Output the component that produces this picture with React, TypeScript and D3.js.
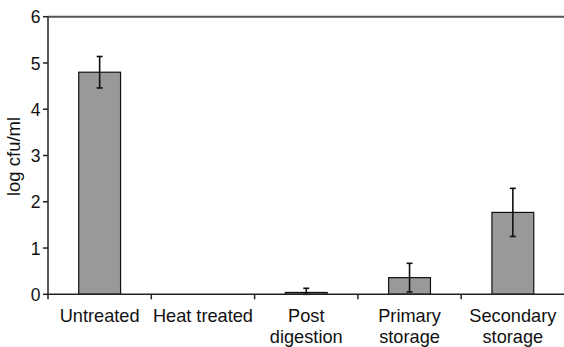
import React from "react";
import * as d3 from "d3";

const categories = [["Untreated"], ["Heat treated"], ["Post", "digestion"], ["Primary", "storage"], ["Secondary", "storage"]];
const values = [4.8, 0, 0.04, 0.36, 1.77];
const errors = [0.34, 0, 0.09, 0.31, 0.52];
const yTicks = [0, 1, 2, 3, 4, 5, 6];

export default function App() {
  const W = 564, H = 347;
  const left = 48, right = 564.5, top = 16.7, bottom = 294.3;
  const x = d3.scaleBand<number>().domain(d3.range(categories.length)).range([left, right]).paddingInner(0).paddingOuter(0);
  const y = d3.scaleLinear().domain([0, 6]).range([bottom, top]);
  const bw = x.bandwidth() * 0.405;
  const font = "Liberation Sans, Arial, sans-serif";
  return (
    <svg width={W} height={H} style={{ position: "absolute", left: 0, top: 0 }}>
      <rect width={W} height={H} fill="#fff" />
      {values.map((v, i) => {
        const cx = x(i)! + x.bandwidth() / 2;
        if (v <= 0) return null;
        return (
          <g key={i}>
            <rect x={cx - bw / 2} y={y(v)} width={bw} height={y(0) - y(v)} fill="#999" stroke="#111" strokeWidth={1.2} />
            {errors[i] > 0 && (
              <g stroke="#111" strokeWidth={1.6}>
                <line x1={cx} x2={cx} y1={y(v + errors[i])} y2={y(Math.max(0, v - errors[i]))} />
                <line x1={cx - 3} x2={cx + 3} y1={y(v + errors[i])} y2={y(v + errors[i])} />
                <line x1={cx - 3} x2={cx + 3} y1={y(Math.max(0, v - errors[i]))} y2={y(Math.max(0, v - errors[i]))} />
              </g>
            )}
          </g>
        );
      })}
      <line x1={left} x2={W} y1={y(6)} y2={y(6)} stroke="#555" strokeWidth={2} />
      <line x1={left} x2={left} y1={y(6)} y2={y(0)} stroke="#222" strokeWidth={1.5} />
      {yTicks.map((t) => (
        <g key={t}>
          <line x1={left - 5} x2={left} y1={y(t)} y2={y(t)} stroke="#222" strokeWidth={1.5} />
          <text x={40.5} y={y(t)} dy="0.38em" textAnchor="end" fontFamily={font} fontSize={17.5} fill="#111">{t}</text>
        </g>
      ))}
      <line x1={left} x2={W} y1={y(0)} y2={y(0)} stroke="#222" strokeWidth={1.5} />
      {categories.map((c, i) => (
        <line key={"t" + i} x1={x(i)!} x2={x(i)!} y1={y(0)} y2={y(0) + 5} stroke="#222" strokeWidth={1.5} />
      ))}
      {categories.map((c, i) => (
        <text key={"l" + i} x={x(i)! + x.bandwidth() / 2} y={322} textAnchor="middle" fontFamily={font} fontSize={18.2} fill="#111">
          {c.map((s, j) => (
            <tspan key={j} x={x(i)! + x.bandwidth() / 2} dy={j === 0 ? 0 : 21}>{s}</tspan>
          ))}
        </text>
      ))}
      <text transform={`translate(20,${(y(0) + y(6)) / 2 + 1}) rotate(-90)`} textAnchor="middle" fontFamily={font} fontSize={18.5} fill="#111">log cfu/ml</text>
    </svg>
  );
}
